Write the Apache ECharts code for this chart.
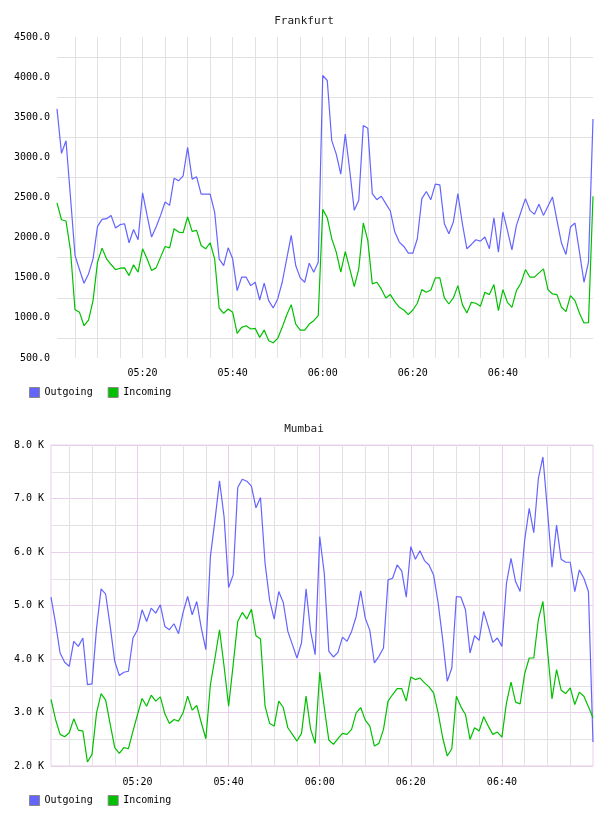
<!DOCTYPE html>
<html>
<head>
<meta charset="utf-8">
<title>Frankfurt / Mumbai traffic</title>
<script src="https://cdn.jsdelivr.net/npm/echarts@6/dist/echarts.min.js"></script>
<style>
html, body { margin: 0; padding: 0; background: #fff; }
#frankfurt, #mumbai { width: 608px; height: 408px; }
</style>
</head>
<body>
<div id="frankfurt"></div>
<div id="mumbai"></div>
<script>
// one point per minute, 05:01 .. 07:00
var times = [
  '05:01','05:02','05:03','05:04','05:05','05:06','05:07','05:08','05:09','05:10',
  '05:11','05:12','05:13','05:14','05:15','05:16','05:17','05:18','05:19','05:20',
  '05:21','05:22','05:23','05:24','05:25','05:26','05:27','05:28','05:29','05:30',
  '05:31','05:32','05:33','05:34','05:35','05:36','05:37','05:38','05:39','05:40',
  '05:41','05:42','05:43','05:44','05:45','05:46','05:47','05:48','05:49','05:50',
  '05:51','05:52','05:53','05:54','05:55','05:56','05:57','05:58','05:59','06:00',
  '06:01','06:02','06:03','06:04','06:05','06:06','06:07','06:08','06:09','06:10',
  '06:11','06:12','06:13','06:14','06:15','06:16','06:17','06:18','06:19','06:20',
  '06:21','06:22','06:23','06:24','06:25','06:26','06:27','06:28','06:29','06:30',
  '06:31','06:32','06:33','06:34','06:35','06:36','06:37','06:38','06:39','06:40',
  '06:41','06:42','06:43','06:44','06:45','06:46','06:47','06:48','06:49','06:50',
  '06:51','06:52','06:53','06:54','06:55','06:56','06:57','06:58','06:59','07:00'
];
var xLabels = ['05:20', '05:40', '06:00', '06:20', '06:40'];

var frankTicks = [500, 1000, 1500, 2000, 2500, 3000, 3500, 4000, 4500];
var mumbaiTicks = [2000, 3000, 4000, 5000, 6000, 7000, 8000];

var frankOut = [
  3604, 3050, 3208, 2500, 1778, 1600, 1432, 1548, 1736, 2140,
  2227, 2236, 2277, 2119, 2161, 2173, 1936, 2102, 1973, 2557,
  2277, 2007, 2132, 2277, 2444, 2402, 2741, 2708, 2770, 3125,
  2729, 2758, 2541, 2541, 2541, 2319, 1736, 1652, 1873, 1736,
  1340, 1507, 1507, 1402, 1444, 1223, 1432, 1215, 1123, 1236,
  1444, 1736, 2027, 1652, 1498, 1444, 1682, 1569, 1694, 4020,
  3958, 3208, 3041, 2791, 3291, 2833, 2340, 2465, 3396, 3362,
  2548, 2473, 2515, 2423, 2332, 2069, 1944, 1890, 1807, 1807,
  1986, 2486, 2575, 2473, 2666, 2658, 2173, 2048, 2194, 2548,
  2173, 1861, 1915, 1973, 1957, 2007, 1861, 2248, 1819, 2319,
  2090, 1848, 2152, 2319, 2486, 2340, 2290, 2415, 2277, 2390,
  2507, 2215, 1932, 1790, 2132, 2182, 1819, 1444, 1694, 3479
];
var frankIn = [
  2432, 2223, 2207, 1840, 1102, 1069, 902, 973, 1215, 1694,
  1869, 1736, 1665, 1602, 1619, 1623, 1527, 1661, 1569, 1861,
  1736, 1590, 1623, 1757, 1890, 1873, 2111, 2069, 2061, 2257,
  2077, 2090, 1902, 1861, 1936, 1736, 1123, 1057, 1111, 1069,
  807, 882, 902, 861, 869, 757, 848, 715, 690, 744,
  882, 1036, 1165, 923, 848, 848, 923, 965, 1027, 2352,
  2248, 1986, 1819, 1569, 1827, 1611, 1390, 1611, 2182, 1965,
  1423, 1444, 1361, 1248, 1290, 1202, 1132, 1098, 1040, 1098,
  1182, 1352, 1319, 1348, 1498, 1498, 1248, 1173, 1248, 1402,
  1165, 1061, 1194, 1182, 1144, 1319, 1290, 1415, 1090, 1352,
  1194, 1132, 1340, 1432, 1602, 1507, 1507, 1561, 1611, 1352,
  1298, 1290, 1132, 1077, 1277, 1215, 1057, 936, 940, 2515
];

var mumbaiOut = [
  5155, 4671, 4112, 3938, 3864, 4330, 4236, 4392, 3522, 3535,
  4578, 5311, 5211, 4609, 3957, 3690, 3752, 3771, 4392, 4547,
  4920, 4702, 4951, 4858, 5013, 4609, 4547, 4659, 4472, 4870,
  5168, 4827, 5075, 4578, 4174, 5913, 6596, 7329, 6658, 5336,
  5572, 7205, 7360, 7323, 7230, 6826, 7019, 5789, 5100, 4746,
  5261, 5056, 4516, 4268, 4019, 4300, 5311, 4516, 4081, 6286,
  5603, 4143, 4038, 4125, 4410, 4330, 4516, 4795, 5273, 4764,
  4535, 3926, 4050, 4205, 5478, 5509, 5758, 5646, 5155, 6100,
  5864, 6025, 5839, 5758, 5572, 5050, 4361, 3584, 3833, 5168,
  5155, 4920, 4112, 4435, 4348, 4889, 4609, 4311, 4392, 4236,
  5416, 5882, 5447, 5261, 6224, 6814, 6360, 7373, 7776, 6783,
  5714, 6503, 5864, 5808, 5808, 5261, 5665, 5509, 5261, 2448
];
var mumbaiIn = [
  3243, 2870, 2591, 2547, 2621, 2882, 2671, 2653, 2075, 2218,
  2994, 3354, 3230, 2777, 2342, 2237, 2342, 2323, 2653, 2963,
  3261, 3118, 3323, 3212, 3292, 2976, 2795, 2870, 2839, 2994,
  3305, 3044, 3131, 2808, 2510, 3522, 4019, 4547, 3864, 3118,
  3895, 4702, 4870, 4746, 4932, 4435, 4373, 3118, 2795, 2746,
  3212, 3093, 2715, 2591, 2466, 2610, 3305, 2690, 2423, 3752,
  3093, 2485, 2404, 2510, 2609, 2591, 2684, 2994, 3093, 2858,
  2746, 2373, 2423, 2684, 3212, 3336, 3448, 3448, 3212, 3665,
  3615, 3646, 3553, 3479, 3367, 2994, 2528, 2187, 2323, 3305,
  3106, 2963, 2497, 2715, 2653, 2920, 2746, 2591, 2634, 2541,
  3181, 3566, 3193, 3162, 3727, 4019, 4019, 4733, 5075, 4174,
  3255, 3802, 3417, 3355, 3460, 3150, 3380, 3305, 3106, 2901
];

var FONT = 'DejaVu Sans Mono';
var GRAY = '#e2e2e2';
var PURPLE = '#e8d0ea';
var BLUE = '#6464ff';
var GREEN = '#00c000';

function minuteOf(t) { return parseInt(t.split(':')[1], 10); }

function buildOption(o) {
  var last = times.length - 1;
  var xAxes = [{
    type: 'category',
    data: times,
    boundaryGap: false,
    axisLine: { show: false },
    axisTick: { show: false },
    axisLabel: {
      interval: function (i, v) { return xLabels.indexOf(v) >= 0; },
      margin: o.labelMargin,
      fontFamily: FONT, fontSize: 10, color: '#000'
    },
    splitLine: {
      show: true,
      // thin line every 5 minutes
      interval: function (i, v) {
        var m = minuteOf(v);
        return i < last && m % 5 === 0 && !(o.major && m % 20 === 0);
      },
      lineStyle: { color: GRAY, width: 1 }
    }
  }];
  if (o.major) {
    // second axis only for the coloured 20 minute lines
    xAxes.push({
      type: 'category',
      data: times,
      boundaryGap: false,
      axisLine: { show: false },
      axisTick: { show: false },
      axisLabel: { show: false },
      splitLine: {
        show: true,
        interval: function (i, v) { return i < last && minuteOf(v) % 20 === 0; },
        lineStyle: { color: PURPLE, width: 1 }
      }
    });
  }
  var ticks = o.ticks;
  return {
    animation: false,
    title: {
      text: o.title, left: 'center', top: 11,
      textStyle: { fontFamily: FONT, fontSize: 11, fontWeight: 'normal', color: '#222' }
    },
    legend: {
      data: ['Outgoing', 'Incoming'],
      left: 24, top: 382,
      icon: 'rect', itemWidth: 10, itemHeight: 10, itemGap: 15,
      itemStyle: { borderColor: '#888', borderWidth: 1 },
      textStyle: { fontFamily: FONT, fontSize: 10, color: '#000' }
    },
    grid: {
      left: o.left, right: o.right, top: 37, bottom: o.bottom,
      show: !!o.major, borderColor: PURPLE, borderWidth: 1
    },
    xAxis: xAxes,
    yAxis: {
      type: 'value',
      min: ticks[0], max: ticks[ticks.length - 1], interval: ticks[1] - ticks[0],
      axisLine: { show: false },
      axisTick: { show: false },
      axisLabel: { formatter: o.fmt, margin: 7, fontFamily: FONT, fontSize: 10, color: '#000' },
      splitLine: { show: !!o.major, lineStyle: { color: PURPLE, width: 1 } },
      minorTick: { show: false, splitNumber: 2 },
      minorSplitLine: { show: true, lineStyle: { color: GRAY, width: 1 } }
    },
    series: [
      { name: 'Outgoing', type: 'line', data: o.out, symbol: 'none',
        color: BLUE, lineStyle: { color: BLUE, width: 1.2 } },
      { name: 'Incoming', type: 'line', data: o.inc, symbol: 'none',
        color: GREEN, lineStyle: { color: GREEN, width: 1.2 } }
    ]
  };
}

var chartF = echarts.init(document.getElementById('frankfurt'));
chartF.setOption(buildOption({
  title: 'Frankfurt', out: frankOut, inc: frankIn, ticks: frankTicks,
  left: 57, right: 15, bottom: 50, labelMargin: 10, major: false,
  fmt: function (v) { return v.toFixed(1); }
}));

var chartM = echarts.init(document.getElementById('mumbai'));
chartM.setOption(buildOption({
  title: 'Mumbai', out: mumbaiOut, inc: mumbaiIn, ticks: mumbaiTicks,
  left: 51, right: 15, bottom: 50, labelMargin: 11, major: true,
  fmt: function (v) { return (v / 1000).toFixed(1) + ' K'; }
}));
</script>
</body>
</html>
